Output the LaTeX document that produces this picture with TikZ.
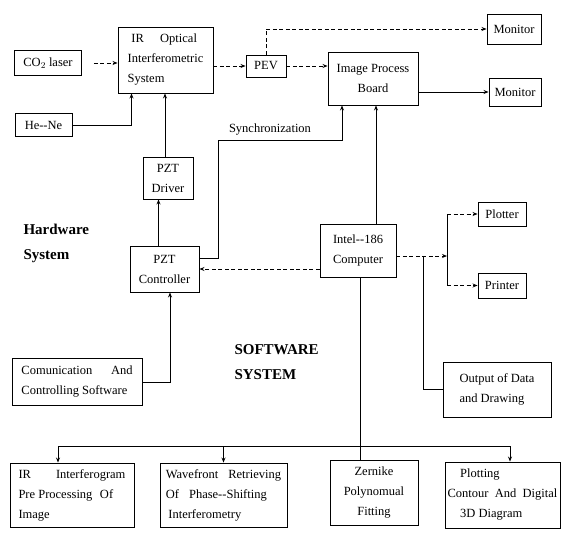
\documentclass[tikz,border=0pt]{standalone}
\usepackage{fontspec}
\setmainfont{Liberation Serif}
\usetikzlibrary{arrows.meta,calc,positioning}

\begin{document}
\begin{tikzpicture}[
  x=1pt, y=-1pt,
  font=\fontsize{12.5}{20}\selectfont,
  box/.style={draw, line width=0.9pt, align=center, inner sep=2pt},
  lbox/.style={box, align=left},
  title/.style={align=left, anchor=west, font=\fontsize{15}{25}\selectfont\bfseries},
  wire/.style={line width=1pt},
  arr/.style={wire, -{Stealth[length=5pt,width=4pt]}},
  darr/.style={arr, dash pattern=on 4pt off 2.5pt}]
\useasboundingbox (0,0) rectangle (565,533);
% hardware part
\node[box, minimum width=67pt, minimum height=25pt] (co2) at (48,63) {CO$_2$ laser};
\node[lbox, minimum width=95pt, minimum height=66pt] (ir) at (165.5,60)
  {\hspace{0.3em}IR\hspace{1.3em}Optical\\Interferometric\\System};
\node[box, minimum width=57pt, minimum height=23pt] (hene) at (43.5,125) {He-{}-Ne};
\node[box, minimum width=40pt, minimum height=22pt] (pev) at (266,66) {PEV};
\node[box, minimum width=54pt, minimum height=30pt] (mon1) at (514,29) {Monitor};
\node[box, minimum width=90pt, minimum height=53pt] (ipb) at (373,78.5) {Image Process\\Board};
\node[box, minimum width=52pt, minimum height=28pt] (mon2) at (515,92) {Monitor};
\node[box, minimum width=50pt, minimum height=42pt] (drv) at (168,178) {PZT\\Driver};
\node[box, minimum width=69pt, minimum height=46pt] (ctl) at (164.5,269) {PZT\\Controller};
\node[box, minimum width=76pt, minimum height=53pt] (cpu) at (358,250.5) {Intel-{}-186\\Computer};
\node[box, minimum width=48pt, minimum height=24pt] (plot) at (502,214) {Plotter};
\node[box, minimum width=48pt, minimum height=25pt] (prn) at (502,285.5) {Printer};
\node[lbox, minimum width=108pt, minimum height=55pt] (outd) at (497,389.5) {Output of Data\\and Drawing};
\node[lbox, minimum width=130pt, minimum height=47pt] (comm) at (77,382)
  {Comunication\hspace{1.5em}And\\Controlling Software};
\node[title] (hw) at (20,243) {Hardware\\System};
\node[title] (sw) at (231,362) {SOFTWARE\\SYSTEM};
\node (sync) at (270,130) {Synchronization};
% software modules
\node[lbox, minimum width=124pt, minimum height=64pt] (iri) at (72,495)
  {IR\hspace{2em}Interferogram\\Pre Processing\hspace{0.6em}Of\\Image};
\node[lbox, minimum width=127pt, minimum height=64pt] (wav) at (223.5,495)
  {Wavefront\hspace{0.8em}Retrieving\\Of\hspace{0.8em}Phase-{}-Shifting\\\hspace{0.2em}Interferometry};
\node[box, minimum width=88pt, minimum height=65pt] (zer) at (374,492.5) {Zernike\\Polynomual\\Fitting};
\node[lbox, minimum width=115pt, minimum height=66pt] (plt) at (502.5,495)
  {\hspace{1em}Plotting\\Contour\hspace{0.5em}And\hspace{0.5em}Digital\\\hspace{1em}3D Diagram};
% bends and taps
\coordinate (syncbend) at (218,140);
\coordinate (split) at (447,256);
\coordinate (tap) at (423,256);
\coordinate (busl) at (58,446);
\coordinate (busr) at (510,446);
% optical and hardware links
\draw[darr, shorten <=12pt] (co2.east) -- (co2.east -| ir.west);
\draw[arr] (hene.east) -| ([xshift=-34pt]ir.south);
\draw[arr] ([xshift=-3pt]drv.north) -- ([xshift=-3pt]drv.north |- ir.south);
\draw[arr] ([xshift=-6pt]ctl.north) -- ([xshift=-6pt]ctl.north |- drv.south);
\draw[darr] (ir.east |- pev) -- (pev.west);
\draw[darr] (pev.north) |- (mon1.west);
\draw[darr] (pev.east) -- (pev.east -| ipb.west);
\draw[arr] (ipb.east |- mon2) -- (mon2.west);
\draw[arr] ([yshift=11pt]ctl.east) -| (syncbend) -| ([xshift=-31pt]ipb.south);
\draw[arr] ([xshift=18pt]cpu.north) -- ([xshift=18pt]cpu.north |- ipb.south);
\draw[darr] (cpu.west |- ctl.east) -- (ctl.east);
\draw[arr] (comm.east) -| ([xshift=5.5pt]ctl.south);
% outputs of the computer
\draw[darr] ([yshift=-5.5pt]cpu.east) -- (split);
\draw[wire] (split |- plot) -- (split |- prn);
\draw[darr] (split |- plot) -- (plot.west);
\draw[darr] (split |- prn) -- (prn.west);
\draw[wire] (tap) |- (outd.west);
% software bus
\draw[wire] ([xshift=2pt]cpu.south) -- ([xshift=2pt]cpu.south |- zer.north);
\draw[wire] (busl) -- (busr);
\draw[arr] (busl) -- (busl |- iri.north);
\draw[arr] (wav.north |- busl) -- (wav.north);
\draw[arr] (busr) -- (busr |- plt.north);
\end{tikzpicture}
\end{document}
